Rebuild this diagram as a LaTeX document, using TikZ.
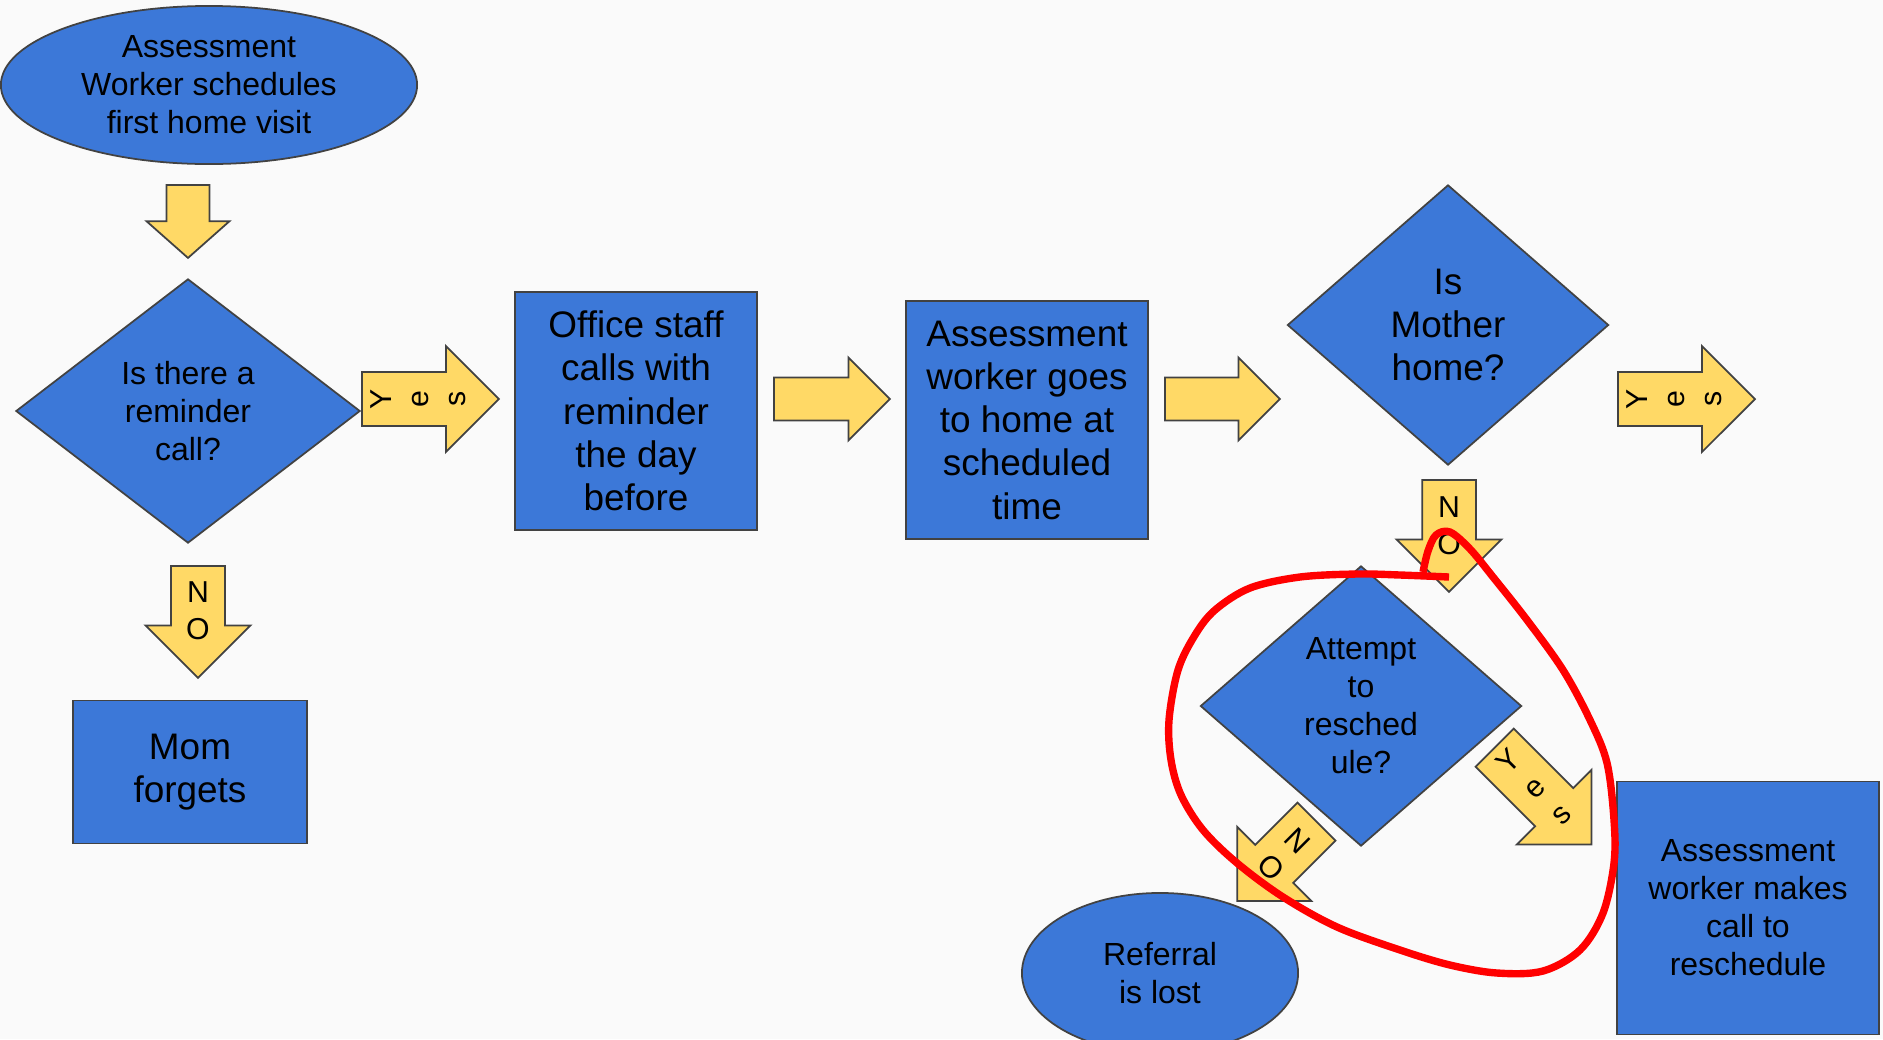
\documentclass[tikz,border=0pt]{standalone}
\usepackage{fontspec}
\setmainfont{Liberation Sans}
\usepackage{xcolor}
\definecolor{ShapeBlue}{rgb}{0.235, 0.47, 0.847}
\definecolor{ArrowYellow}{rgb}{1.0, 0.851, 0.4}
\definecolor{OutlineGray}{rgb}{0.26, 0.26, 0.26}
\definecolor{MarkerRed}{rgb}{1.0, 0.0, 0.0}
\definecolor{PageGray}{rgb}{0.98, 0.98, 0.98}
\usepackage{tikz}
\usetikzlibrary{shapes.geometric, shapes.arrows, calc}
\newcommand{\BigText}{\fontsize{10.5}{12.3}\selectfont}
\newcommand{\SmallText}{\fontsize{9.1}{10.8}\selectfont}
\newcommand{\ArrowText}{\fontsize{8.6}{10.6}\selectfont}
\tikzset{
	ProcessBox/.style={rectangle, draw=OutlineGray, fill=ShapeBlue, line width=0.5pt, inner sep=0pt, align=center, font=\BigText},
	DecisionShape/.style={diamond, draw=OutlineGray, fill=ShapeBlue, line width=0.5pt, inner sep=0pt, align=center, font=\SmallText},
	TerminalShape/.style={ellipse, draw=OutlineGray, fill=ShapeBlue, line width=0.5pt, inner sep=0pt, align=center, font=\SmallText},
	FlowArrow/.style={single arrow, shape border rotate=270, draw=OutlineGray, fill=ArrowYellow, line width=0.5pt, inner ysep=0pt},
	PlainArrow/.style={FlowArrow, inner xsep=0.205cm, single arrow head extend=0.2cm, minimum width=0.81cm},
	YesArrow/.style={FlowArrow, inner xsep=0.26cm, single arrow head extend=0.26cm, minimum width=1.04cm, minimum height=1.37cm},
	NoArrow/.style={FlowArrow, inner xsep=0.26cm, single arrow head extend=0.255cm, minimum width=1.03cm, minimum height=1.12cm},
	ArrowLabel/.style={inner sep=0pt, align=center, font=\ArrowText},
	RedStroke/.style={draw=MarkerRed, line width=2.1pt, line cap=butt, line join=round}
}

\begin{document}
\begin{tikzpicture}[x=0.01cm, y=-0.01cm]
	\useasboundingbox (0,0) rectangle (1883,1039);
	\fill[PageGray] (0,0) rectangle (1883,1039);
	\node[TerminalShape, minimum width=4.16cm, minimum height=1.58cm] (schedule) at (209,85) {Assessment\\Worker schedules\\first home visit};
	\node[DecisionShape, minimum width=3.44cm, minimum height=2.64cm] (reminder) at (188,411) {Is there a\\reminder\\call?};
	\node[ProcessBox, minimum width=2.42cm, minimum height=2.38cm] (office) at (636,411) {Office staff\\calls with\\reminder\\the day\\before};
	\node[ProcessBox, minimum width=2.42cm, minimum height=2.38cm] (visit) at (1027,420) {Assessment\\worker goes\\to home at\\scheduled\\time};
	\node[DecisionShape, font=\BigText, minimum width=3.21cm, minimum height=2.80cm] (mother) at (1448,325) {Is\\Mother\\home?};
	\node[DecisionShape, minimum width=3.21cm, minimum height=2.80cm] (attempt) at (1361,706) {Attempt\\to\\resched\\ule?};
	\node[ProcessBox, minimum width=2.34cm, minimum height=1.43cm] (forgets) at (190,772) {Mom\\forgets};
	\node[TerminalShape, minimum width=2.76cm, minimum height=1.60cm] (lost) at (1160,973) {Referral\\is lost};
	\node[ProcessBox, font=\SmallText, minimum width=2.62cm, minimum height=2.53cm] (callback) at (1748,908) {Assessment\\worker makes\\call to\\reschedule};
	\node[PlainArrow, single arrow tip angle=97, minimum height=0.73cm, anchor=tail] (arrowA) at (188,184) {};
	\node[PlainArrow, minimum height=1.16cm, rotate=90, anchor=tail] (arrowB) at (773,399) {};
	\node[PlainArrow, minimum height=1.15cm, rotate=90, anchor=tail] (arrowC) at (1164,399) {};
	\node[YesArrow, rotate=90, anchor=tail] (yesReminder) at (361,399) {};
	\node[YesArrow, rotate=90, anchor=tail] (yesMother) at (1617,399) {};
	\node[YesArrow, rotate=45, anchor=tail] (yesAttempt) at (1494,747) {};
	\node[NoArrow, anchor=tail] (noReminder) at (198,565) {};
	\node[NoArrow, anchor=tail] (noMother) at (1449,479) {};
	\node[NoArrow, rotate=-45, anchor=tail] (noAttempt) at (1317,821) {};
	\node[ArrowLabel, rotate=90] (yesReminderText) at ($(yesReminder.tail)!0.41!(yesReminder.tip)$) {Y\\e\\s};
	\node[ArrowLabel, rotate=90] (yesMotherText) at ($(yesMother.tail)!0.41!(yesMother.tip)$) {Y\\e\\s};
	\node[ArrowLabel, rotate=45] (yesAttemptText) at ($(yesAttempt.tail)!0.41!(yesAttempt.tip)$) {Y\\e\\s};
	\node[ArrowLabel] (noReminderText) at ($(noReminder.tail)!0.40!(noReminder.tip)$) {N\\O};
	\node[ArrowLabel] (noMotherText) at ($(noMother.tail)!0.41!(noMother.tip)$) {N\\O};
	\node[ArrowLabel, rotate=-45] (noAttemptText) at ($(noAttempt.tail)!0.41!(noAttempt.tip)$) {N\\O};
	\draw[RedStroke] plot[smooth, tension=0.55] coordinates {(1449,577) (1400,575) (1357,574) (1300,577) (1250,588) (1215,610) (1195,635) (1178,670) (1169,720) (1171,760) (1181,795) (1203,830) (1237,863) (1283,897) (1337,927) (1400,950) (1450,965) (1497,973) (1543,971) (1580,950) (1603,913) (1614,863) (1614,820) (1607,763) (1590,720) (1563,670) (1527,620) (1493,577) (1470,549) (1450,532) (1436,535) (1428,551) (1423,572)};
\end{tikzpicture}
\end{document}
